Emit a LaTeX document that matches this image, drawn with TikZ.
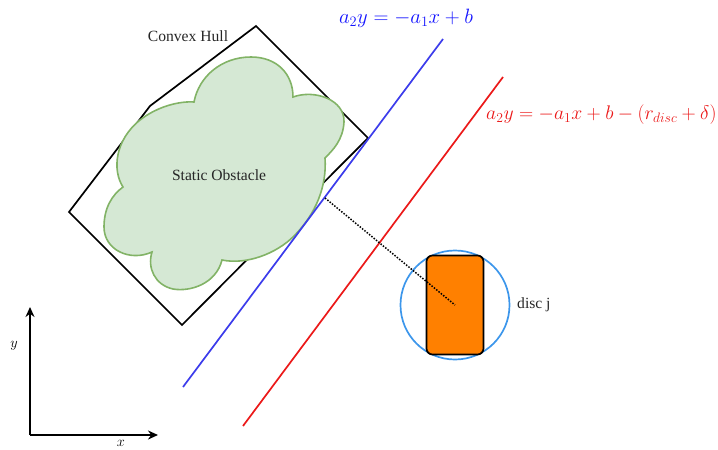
\documentclass[tikz,border=0pt]{standalone}
\usepackage{fontspec}
\setmainfont{Liberation Serif}
\usetikzlibrary{arrows.meta}
\definecolor{hullblue}{RGB}{60,60,235}
\definecolor{labelblue}{RGB}{20,20,255}
\definecolor{linered}{RGB}{235,25,25}
\definecolor{discblue}{RGB}{60,150,235}
\definecolor{obsfill}{HTML}{D5E8D4}
\definecolor{obsdraw}{HTML}{82B366}
\definecolor{robot}{HTML}{FF8000}
\tikzset{
  hull/.style={draw=black, line width=1.7pt, line join=miter},
  obstacle/.style={fill=obsfill, draw=obsdraw, line width=1.6pt},
  txt/.style={font=\fontsize{15.6}{18}\selectfont, text=black!85, inner sep=0pt},
  eqn/.style={font=\fontsize{19.8}{22}\selectfont, inner sep=0pt},
  axis/.style={line width=1.6pt, -{Stealth[length=10pt,width=9pt]}},
}
\begin{document}
\begin{tikzpicture}[x=1pt,y=-1pt]
\useasboundingbox (0,0) rectangle (718,450);
\clip (0,0) rectangle (718,450);
% convex hull
\coordinate (h1) at (256,26);
\coordinate (h2) at (368,138);
\coordinate (h3) at (182,325);
\coordinate (h4) at (69,212);
\coordinate (h5) at (150,106);
\draw[hull] (h1) -- (h2) -- (h3) -- (h4) -- (h5) -- cycle;
% obstacle cloud
\draw[obstacle] (194,102)
  .. controls (199,76) and (222,57) .. (251,57)
  .. controls (277,57) and (293,74) .. (293,97)
  .. controls (315,89) and (345,100) .. (344,122)
  .. controls (343,140) and (333,150) .. (325,158)
  .. controls (327,186) and (316,214) .. (294,236)
  .. controls (276,254) and (246,265) .. (222,260)
  .. controls (216,284) and (190,292) .. (173,289)
  .. controls (155,285) and (147,268) .. (152,252)
  .. controls (130,262) and (104,250) .. (104,227)
  .. controls (104,208) and (112,195) .. (123,187)
  .. controls (112,170) and (115,140) .. (140,120)
  .. controls (158,106) and (180,101) .. (194,102) -- cycle;
\node[txt] (obs) at (219,175) {Static Obstacle};
\node[txt] (hulllbl) at (188,36) {Convex Hull};
% lines
\coordinate (b1) at (183,387);
\coordinate (b2) at (443,39);
\coordinate (r1) at (243,426);
\coordinate (r2) at (503,77);
\draw[hullblue, line width=1.7pt] (b1) -- (b2);
\draw[linered, line width=1.7pt] (r1) -- (r2);
\node[eqn, text=labelblue] (beq) at (406,18) {$a_2y=-a_1x+b$};
\node[eqn, text=linered, anchor=west] (req) at (486,115) {\scalebox{0.95}{$a_2y=-a_1x+b-(r_{disc}+\delta)$}};
% disc
\node[draw=discblue, line width=1.7pt, circle, minimum size=109pt, inner sep=0pt] (disc) at (455,305) {};
\node[draw=black, fill=robot, line width=1.7pt, rounded corners=6pt, minimum width=57pt, minimum height=99pt, inner sep=0pt] (rob) at (455,305) {};
\coordinate (touch) at (325,198);
\draw[black, line width=1.5pt, dash pattern=on 1.5pt off 1.5pt] (touch) -- (disc.center);
\node[txt, anchor=west] (disclbl) at (517,305) {disc j};
% axes
\coordinate (o) at (30,435);
\coordinate (ytip) at (30,307);
\coordinate (xtip) at (158,435);
\draw[axis] (o) -- (ytip);
\draw[axis] (o) -- (xtip);
\node[font=\fontsize{15}{17}\selectfont, inner sep=0pt] (ylbl) at (14,346) {$y$};
\node[font=\fontsize{15}{17}\selectfont, inner sep=0pt] (xlbl) at (121,443) {$x$};
\end{tikzpicture}
\end{document}
